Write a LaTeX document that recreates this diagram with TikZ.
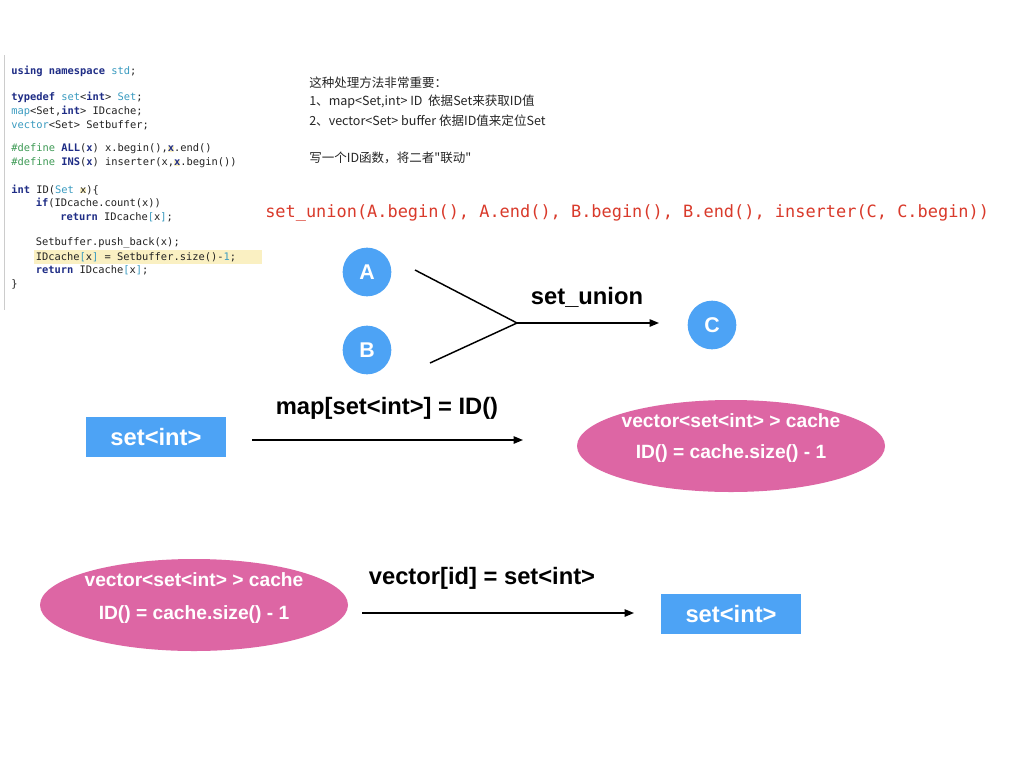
\documentclass[tikz,border=0pt]{standalone}
\usepackage{fontspec}
\setmainfont{Liberation Sans}
\newfontfamily\cjk{Noto Sans CJK SC}
\newfontfamily\mono{DejaVu Sans Mono}
\usetikzlibrary{arrows.meta,shapes.geometric}
\definecolor{cblue}{HTML}{4DA3F5}
\definecolor{cpink}{HTML}{DD66A4}
\definecolor{cred}{HTML}{D93A2B}
\definecolor{kwc}{HTML}{1F2D86}
\definecolor{tyc}{HTML}{3A9BC0}
\definecolor{dfc}{HTML}{3E9A55}
\definecolor{txc}{HTML}{222222}
\definecolor{hl}{HTML}{FAF0C2}
\newcommand\kw[1]{\textcolor{kwc}{\bfseries #1}}
\newcommand\ty[1]{\textcolor{tyc}{#1}}
\newcommand\df[1]{\textcolor{dfc}{#1}}
\newcommand\hx[1]{{\setlength\fboxsep{0pt}\colorbox{hl}{#1}}}
\tikzset{
  code/.style={anchor=west,inner sep=0pt,font=\mono\fontsize{7.8pt}{9pt}\selectfont,text=txc},
  note/.style={anchor=west,inner sep=0pt,font=\cjk\fontsize{9.4pt}{11pt}\selectfont,text=black!85},
  circ/.style={circle,fill=cblue,minimum size=36.5pt,inner sep=0pt,text=white,font=\bfseries\fontsize{16pt}{18pt}\selectfont},
  setbox/.style={rectangle,fill=cblue,minimum width=105pt,minimum height=30pt,inner sep=0pt,text=white,font=\bfseries\fontsize{17.8pt}{20pt}\selectfont},
  cache/.style={ellipse,fill=cpink,minimum width=231pt,minimum height=69pt,inner sep=0pt},
  cachetxt/.style={inner sep=0pt,text=white,font=\bfseries\fontsize{14.4pt}{17pt}\selectfont},
  lbl/.style={inner sep=0pt,font=\bfseries\fontsize{17.8pt}{20pt}\selectfont},
  conn/.style={line width=1.1pt},
  arr/.style={line width=1.1pt,-{Triangle[length=7pt,width=5.5pt]}}
}
\begin{document}
\begin{tikzpicture}[x=0.75pt,y=-0.75pt]
\useasboundingbox[fill=white] (0,0) rectangle (1024,768);
% code screenshot
\draw[black!20,line width=0.6pt] (4,55) -- (4,310);
\fill[hl] (34,250) rectangle (262,264);
\node[code] (c1) at (11,71) {\kw{using} \kw{namespace} \ty{std};};
\node[code] (c2) at (11,97) {\kw{typedef} \ty{set}<\kw{int}> \ty{Set};};
\node[code] (c3) at (11,111) {\ty{map}<Set,\kw{int}> IDcache;};
\node[code] (c4) at (11,125) {\ty{vector}<Set> Setbuffer;};
\node[code] (c5) at (11,149) {\df{\#define} \kw{ALL}(\kw{x}) x.begin(),\hx{\kw{x}}.end()};
\node[code] (c6) at (11,163) {\df{\#define} \kw{INS}(\kw{x}) inserter(x,\hx{\kw{x}}.begin())};
\node[code] (c7) at (11,190) {\kw{int} ID(\ty{Set} \hx{x})\{};
\node[code] (c8) at (35.5,203) {\kw{if}(IDcache.count(x))};
\node[code] (c9) at (60,217) {\kw{return} IDcache\ty{[}x\ty{]};};
\node[code] (c10) at (35.5,243) {Setbuffer.push\_back(x);};
\node[code] (c11) at (35.5,257) {IDcache\ty{[}x\ty{]} = Setbuffer.size()-\ty{1};};
\node[code] (c12) at (35.5,270) {\kw{return} IDcache\ty{[}x\ty{]};};
\node[code] (c13) at (11,284) {\}};
% notes
\node[note] (n1) at (309,83) {这种处理方法非常重要：};
\node[note] (n2) at (309,102) {1、map<Set,int> ID\ \ 依据Set来获取ID值};
\node[note] (n3) at (309,121) {2、vector<Set> buffer 依据ID值来定位Set};
\node[note] (n4) at (309,158) {写一个ID函数，将二者"联动"};
% red code
\node[anchor=west,inner sep=0pt,text=cred,font=\mono\fontsize{12.7pt}{14pt}\selectfont] (red) at (265,213)
  {set\_union(A.begin(), A.end(), B.begin(), B.end(), inserter(C, C.begin))};
% set_union diagram
\node[circ] (A) at (367,272) {A};
\node[circ] (B) at (367,350) {B};
\node[circ] (C) at (712,325) {C};
\coordinate (a1) at (415,270);
\coordinate (b1) at (430,363);
\coordinate (m) at (517,323);
\coordinate (e1) at (659,323);
\draw[conn] (a1) -- (m);
\draw[conn] (b1) -- (m);
\draw[arr] (m) -- (e1);
\node[lbl] (su) at (587,297) {set\_union};
% map row
\node[setbox] (s1) at (156,437) {set<int>};
\coordinate (p1) at (252,440);
\coordinate (p2) at (523,440);
\draw[arr] (p1) -- (p2);
\node[lbl] (ml) at (387,408) {map[set<int>] = ID()};
\node[cache] (e1n) at (731,446) {};
\node[cachetxt] (e1a) at (731,421) {vector<set<int> > cache};
\node[cachetxt] (e1b) at (731,454) {ID() = cache.size() - 1};
% vector row
\node[cache] (e2n) at (194,605) {};
\node[cachetxt] (e2a) at (194,580) {vector<set<int> > cache};
\node[cachetxt] (e2b) at (194,615) {ID() = cache.size() - 1};
\coordinate (q1) at (362,613);
\coordinate (q2) at (634,613);
\draw[arr] (q1) -- (q2);
\node[lbl] (vl) at (482,578) {vector[id] = set<int>};
\node[setbox] (s2) at (731,614) {set<int>};
\end{tikzpicture}
\end{document}
